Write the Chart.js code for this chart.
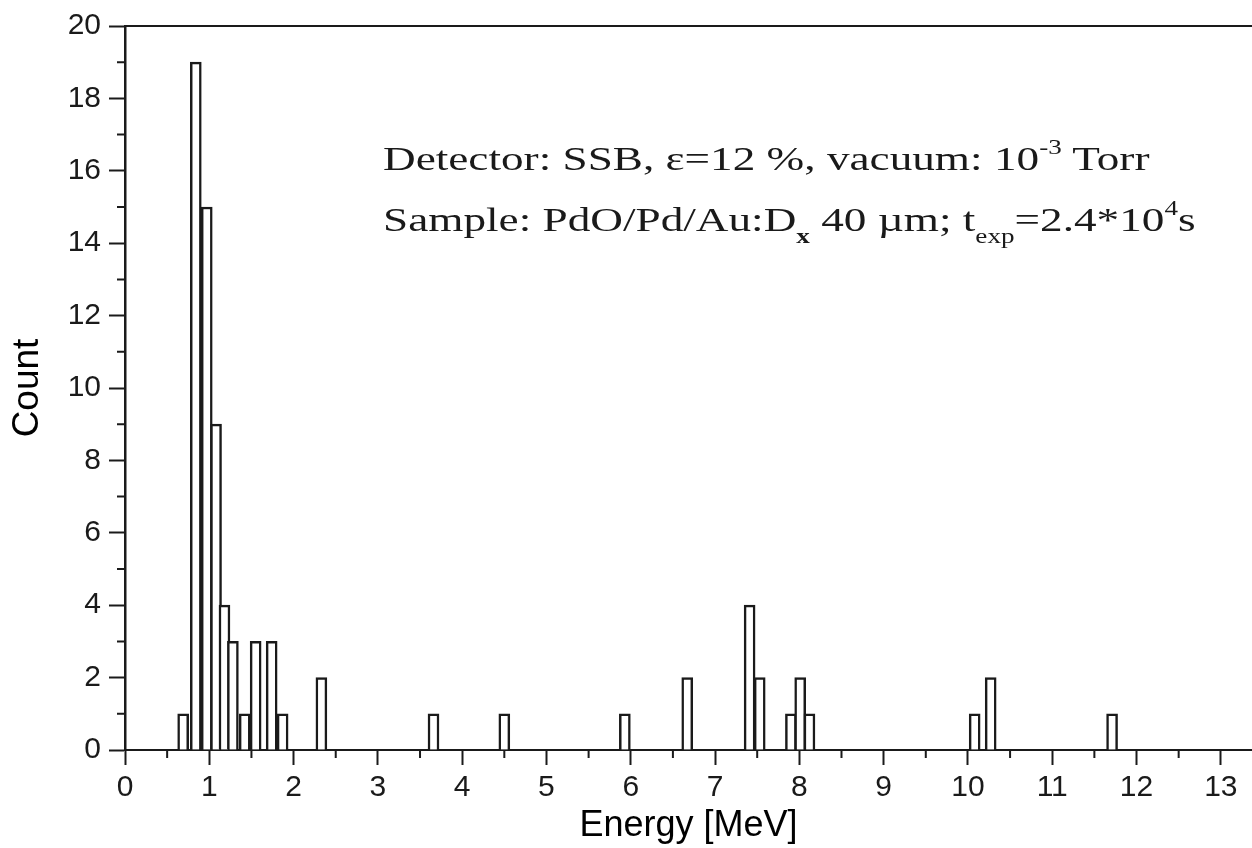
<!DOCTYPE html>
<html><head><meta charset="utf-8">
<script src="https://cdn.jsdelivr.net/npm/chart.js@4.4.1/dist/chart.umd.min.js"></script>
<style>
html,body{margin:0;padding:0;background:#fff;}
#wrap{position:relative;width:1252px;height:848px;overflow:hidden;}
#c{position:absolute;left:0;top:0;}
.note{position:absolute;left:383px;font-family:"Liberation Serif","Times New Roman",serif;font-size:34px;line-height:34px;color:#1a1a1a;white-space:nowrap;transform:scaleX(1.33);transform-origin:0 0;}
.note sub,.note sup{font-size:0.6em;line-height:0;}
.note sub{vertical-align:-0.6em;}
.note sup{vertical-align:0.8em;}
</style></head>
<body><div id="wrap"><canvas id="c" width="1252" height="848"></canvas>
<div class="note" style="top:142px">Detector: SSB, ε=12 %, vacuum: 10<sup>-3</sup> Torr</div>
<div class="note" style="top:203px">Sample: PdO/Pd/Au:D<sub><b>x</b></sub> 40 µm; t<sub>exp</sub>=2.4*10<sup>4</sup>s</div>
</div>
<script>
const energy = [0.69, 0.84, 0.97, 1.08, 1.18, 1.28, 1.42, 1.55, 1.74, 1.87, 2.33, 3.66, 4.50, 5.93, 6.67, 7.41, 7.53, 7.90, 8.01, 8.12, 10.08, 10.27, 11.71];
const counts = [1, 19, 15, 9, 4, 3, 1, 3, 3, 1, 2, 1, 1, 1, 2, 4, 2, 1, 2, 1, 1, 2, 1];
const xTicks = [0,1,2,3,4,5,6,7,8,9,10,11,12,13];
const yTicks = [0,2,4,6,8,10,12,14,16,18,20];
const xMinor = [0.5,1.5,2.5,3.5,4.5,5.5,6.5,7.5,8.5,9.5,10.5,11.5,12.5];
const yMinor = [1,3,5,7,9,11,13,15,17,19];
const X_MAX = 13.37;
const INK = '#1a1a1a';

const minorTicks = {
  id: 'minorTicks',
  afterDraw(chart) {
    const {ctx} = chart;
    const x = chart.scales.x, y = chart.scales.y;
    ctx.save();
    ctx.strokeStyle = INK; ctx.lineWidth = 2;
    ctx.beginPath();
    xMinor.forEach(v => { const p = x.getPixelForValue(v); ctx.moveTo(p, x.top); ctx.lineTo(p, x.top + 8); });
    yMinor.forEach(v => { const p = y.getPixelForValue(v); ctx.moveTo(y.right - 8, p); ctx.lineTo(y.right, p); });
    ctx.stroke();
    ctx.restore();
  }
};

new Chart(document.getElementById('c'), {
  type: 'bar',
  data: {
    datasets: [{
      data: energy.map((e, i) => ({x: e, y: counts[i]})),
      backgroundColor: '#ffffff',
      borderColor: INK,
      borderWidth: 2.5,
      borderSkipped: 'start',
      barThickness: 11
    }]
  },
  options: {
    responsive: false,
    animation: false,
    layout: {padding: {top: 25, right: 0, bottom: 0, left: 0}},
    plugins: {legend: {display: false}, tooltip: {enabled: false}},
    scales: {
      x: {
        type: 'linear', position: 'bottom', min: 0, max: X_MAX, offset: false,
        afterFit: s => { s.height = 98; },
        afterBuildTicks: s => { s.ticks = xTicks.map(v => ({value: v})); },
        ticks: {font: {family: '"Liberation Sans", Arial, sans-serif', size: 30}, color: INK, padding: 5, maxRotation: 0, autoSkip: false, includeBounds: false},
        grid: {offset: false, drawOnChartArea: false, drawTicks: true, tickLength: 15, tickColor: INK, tickWidth: 2},
        border: {color: INK, width: 2},
        title: {display: true, text: 'Energy [MeV]', color: '#000', font: {family: '"Liberation Sans", Arial, sans-serif', size: 36}, padding: {top: 0, bottom: 0}}
      },
      x2: {
        type: 'linear', position: 'top', min: 0, max: X_MAX, offset: false,
        afterFit: s => { s.height = 0; },
        ticks: {display: false},
        grid: {display: true, offset: false, drawOnChartArea: false, drawTicks: false},
        border: {color: INK, width: 2}
      },
      y: {
        min: 0, max: 20,
        afterFit: s => { s.width = 125; },
        afterBuildTicks: s => { s.ticks = yTicks.map(v => ({value: v})); },
        ticks: {font: {family: '"Liberation Sans", Arial, sans-serif', size: 30}, color: INK, padding: 8, includeBounds: false},
        grid: {drawOnChartArea: false, drawTicks: true, tickLength: 16, tickColor: INK, tickWidth: 2},
        border: {color: INK, width: 2.5},
        title: {display: true, text: 'Count', color: '#000', font: {family: '"Liberation Sans", Arial, sans-serif', size: 37}, padding: {top: 6, bottom: 0}}
      }
    }
  },
  plugins: [minorTicks]
});
</script>
</body></html>
